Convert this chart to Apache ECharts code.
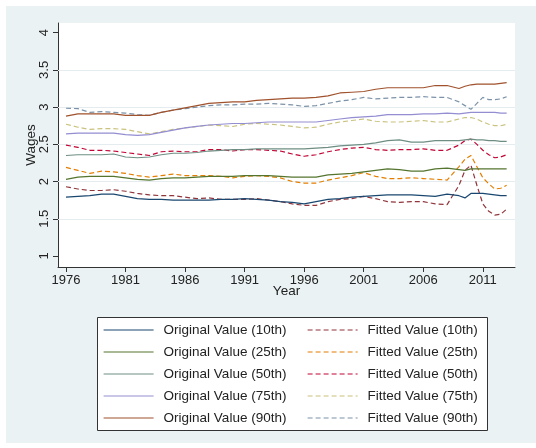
<!DOCTYPE html>
<html>
<head>
<meta charset="utf-8">
<script src="https://cdn.jsdelivr.net/npm/echarts@6/dist/echarts.min.js"></script>
<style>
html,body{margin:0;padding:0;background:#ffffff;}
#c{width:536px;height:448px;}
</style>
</head>
<body>
<div id="c"></div>
<script>
const years = [1976,1977,1978,1979,1980,1981,1982,1983,1984,1985,1986,1987,1988,1989,1990,1991,1992,1993,1994,1995,1996,1997,1998,1999,2000,2001,2002,2003,2004,2005,2006,2007,2008,2009,2009.5,2010,2010.5,2011,2011.5,2012,2012.5,2013];
const xTicks = [1976,1981,1986,1991,1996,2001,2006,2011];
const yTicks = [1,1.5,2,2.5,3,3.5,4];
const gridValues = [1.5,2,2.5,3,3.5];

const orig10 = [1.79,1.80,1.81,1.83,1.83,1.80,1.77,1.76,1.76,1.75,1.75,1.75,1.75,1.76,1.76,1.77,1.76,1.75,1.73,1.72,1.70,1.73,1.76,1.77,1.79,1.80,1.81,1.82,1.82,1.82,1.81,1.80,1.83,1.81,1.78,1.84,1.84,1.84,1.83,1.82,1.81,1.81];
const fit10  = [1.93,1.90,1.88,1.88,1.89,1.87,1.84,1.82,1.81,1.81,1.79,1.77,1.78,1.76,1.76,1.76,1.77,1.75,1.73,1.70,1.68,1.68,1.73,1.76,1.77,1.80,1.77,1.73,1.72,1.73,1.73,1.70,1.69,1.95,2.15,2.22,1.95,1.70,1.60,1.55,1.56,1.63];
const orig25 = [2.03,2.06,2.07,2.07,2.07,2.05,2.03,2.02,2.04,2.05,2.05,2.06,2.07,2.07,2.07,2.08,2.08,2.08,2.07,2.06,2.06,2.06,2.09,2.10,2.11,2.13,2.15,2.17,2.16,2.14,2.14,2.17,2.18,2.16,2.15,2.17,2.17,2.17,2.17,2.17,2.17,2.17];
const fit25  = [2.19,2.15,2.11,2.14,2.13,2.11,2.08,2.06,2.08,2.10,2.08,2.08,2.08,2.07,2.05,2.07,2.08,2.07,2.05,2.00,1.98,1.98,2.02,2.05,2.08,2.12,2.07,2.04,2.04,2.05,2.04,2.03,2.02,2.20,2.30,2.35,2.20,2.05,1.97,1.90,1.91,1.95];
const orig50 = [2.35,2.36,2.36,2.36,2.37,2.33,2.32,2.33,2.36,2.38,2.38,2.39,2.41,2.42,2.43,2.43,2.44,2.44,2.44,2.44,2.44,2.45,2.46,2.48,2.49,2.50,2.52,2.55,2.56,2.53,2.53,2.55,2.55,2.55,2.56,2.57,2.56,2.56,2.55,2.55,2.54,2.54];
const fit50  = [2.49,2.46,2.42,2.42,2.41,2.39,2.37,2.35,2.40,2.41,2.40,2.40,2.43,2.43,2.41,2.43,2.43,2.42,2.41,2.37,2.34,2.36,2.40,2.43,2.45,2.46,2.43,2.42,2.43,2.43,2.44,2.42,2.42,2.49,2.55,2.57,2.50,2.42,2.36,2.32,2.33,2.36];
const orig75 = [2.64,2.65,2.65,2.65,2.65,2.63,2.62,2.63,2.66,2.69,2.72,2.74,2.76,2.77,2.78,2.78,2.79,2.80,2.80,2.80,2.80,2.80,2.82,2.84,2.86,2.87,2.88,2.90,2.90,2.90,2.91,2.91,2.92,2.91,2.92,2.93,2.93,2.93,2.93,2.93,2.92,2.92];
const fit75  = [2.77,2.73,2.70,2.71,2.71,2.70,2.67,2.64,2.67,2.70,2.72,2.74,2.76,2.75,2.74,2.77,2.78,2.77,2.76,2.74,2.72,2.73,2.77,2.80,2.82,2.84,2.81,2.80,2.80,2.81,2.82,2.80,2.80,2.84,2.86,2.86,2.84,2.80,2.77,2.75,2.75,2.77];
const orig90 = [2.88,2.91,2.91,2.91,2.91,2.89,2.89,2.89,2.93,2.96,2.99,3.02,3.05,3.06,3.07,3.07,3.09,3.10,3.11,3.12,3.12,3.13,3.15,3.19,3.20,3.21,3.24,3.26,3.26,3.26,3.26,3.29,3.29,3.25,3.28,3.30,3.31,3.31,3.31,3.31,3.32,3.33];
const fit90  = [2.985,2.98,2.93,2.94,2.93,2.92,2.90,2.89,2.93,2.96,2.98,3.00,3.02,3.03,3.03,3.04,3.04,3.05,3.04,3.03,3.01,3.02,3.05,3.08,3.10,3.13,3.11,3.12,3.13,3.13,3.14,3.13,3.13,3.07,3.02,2.97,3.05,3.13,3.10,3.10,3.11,3.14];

const origNames = ['Original Value (10th)','Original Value (25th)','Original Value (50th)','Original Value (75th)','Original Value (90th)'];
const fitNames  = ['Fitted Value (10th)','Fitted Value (25th)','Fitted Value (50th)','Fitted Value (75th)','Fitted Value (90th)'];
const origData = [orig10, orig25, orig50, orig75, orig90];
const fitData  = [fit10, fit25, fit50, fit75, fit90];
const origColors = ['#1a476f','#55752f','#6e8e84','#938dd2','#a0522d'];
const fitColors  = ['#90353b','#e37e00','#c10534','#cac27e','#7b92a8'];

const FONT = 'Liberation Sans, Arial, sans-serif';
function pairs(arr){ return years.map((y,i)=>[y, arr[i]]); }

const series = [];
for (let i=0;i<5;i++){
  series.push({
    name: origNames[i], type:'line', data: pairs(origData[i]), showSymbol:false, symbol:'none',
    lineStyle:{color:origColors[i], width:1.2}, itemStyle:{color:origColors[i]}, z:3
  });
  series.push({
    name: fitNames[i], type:'line', data: pairs(fitData[i]), showSymbol:false, symbol:'none',
    lineStyle:{color:fitColors[i], width:1.2, type:[5,3]}, itemStyle:{color:fitColors[i]}, z:2
  });
}
series[0].markLine = {
  silent:true, symbol:['none','none'], label:{show:false},
  lineStyle:{color:'#e4ecef', width:1, type:'solid'},
  data: gridValues.map(v=>({yAxis:v})), z:1
};

const legendCommon = {
  orient:'vertical', top:323, padding:0, itemWidth:50, itemHeight:14, itemGap:8,
  itemStyle:{opacity:0},
  lineStyle:{width:1.2},
  textStyle:{color:'#222', fontSize:13.5, fontFamily:FONT, padding:[0,0,0,5], lineHeight:14},
  selectedMode:false
};

const chart = echarts.init(document.getElementById('c'), null, {renderer:'canvas'});
chart.setOption({
  backgroundColor:'#ffffff',
  animation:false,
  graphic:[
    {type:'rect', z:-10, silent:true, shape:{x:6,y:6,width:530,height:437}, style:{fill:'#eaf2f3'}},
    {type:'rect', z:1, silent:true, shape:{x:97.5,y:317.5,width:390,height:113}, style:{fill:'#ffffff', stroke:'#333333', lineWidth:1}}
  ],
  grid:{left:58, top:23, right:21, bottom:181, show:true, backgroundColor:'#ffffff', borderWidth:0},
  xAxis:{
    type:'value', min:1975.33, max:2013.7,
    name:'Year', nameLocation:'middle', nameGap:17, nameMoveOverlap:false,
    nameTextStyle:{color:'#222', fontSize:13.5, fontFamily:FONT},
    axisLine:{show:true, lineStyle:{color:'#333', width:1}},
    axisTick:{show:true, customValues:xTicks, length:5, lineStyle:{color:'#333'}},
    axisLabel:{show:true, customValues:xTicks, color:'#222', fontSize:13, fontFamily:FONT, margin:7, formatter:v=>String(v)},
    splitLine:{show:false}
  },
  yAxis:{
    type:'value', min:0.852, max:4.13,
    name:'Wages', nameLocation:'middle', nameGap:20, nameRotate:90, nameMoveOverlap:false,
    nameTextStyle:{color:'#222', fontSize:13.5, fontFamily:FONT},
    axisLine:{show:true, lineStyle:{color:'#333', width:1}},
    axisTick:{show:true, customValues:yTicks, length:5, lineStyle:{color:'#333'}},
    axisLabel:{show:true, customValues:yTicks, rotate:90, color:'#222', fontSize:13, fontFamily:FONT, margin:7, formatter:v=>String(v)},
    splitLine:{show:false}
  },
  legend:[
    Object.assign({}, legendCommon, {data:origNames, left:103}),
    Object.assign({}, legendCommon, {data:fitNames, left:307})
  ],
  series: series
});
</script>
</body>
</html>
